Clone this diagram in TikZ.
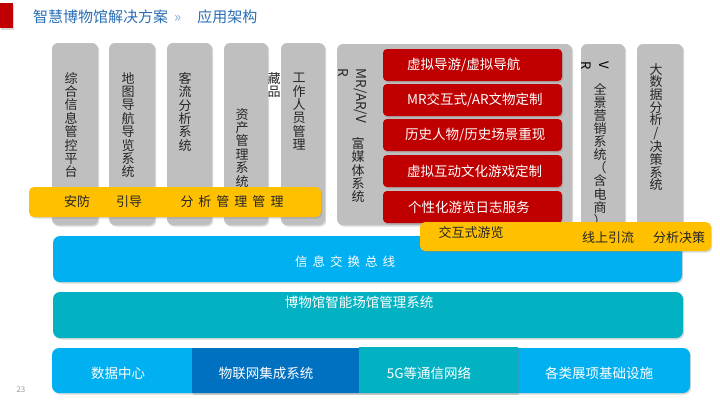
\documentclass[tikz,border=0pt]{standalone}
\usepackage{fontspec}
\setmainfont{Noto Sans CJK SC}
\usetikzlibrary{shadows}
\definecolor{colgray}{RGB}{191,191,191}
\definecolor{gold}{RGB}{255,192,0}
\definecolor{deepred}{RGB}{192,0,0}
\definecolor{busblue}{RGB}{0,176,240}
\definecolor{mteal}{RGB}{3,178,194}
\definecolor{navyblue}{RGB}{0,112,192}
\definecolor{titleblue}{RGB}{41,110,180}
\definecolor{paleblue}{RGB}{130,175,220}
\definecolor{textdark}{RGB}{38,38,38}
\newcommand{\chgap}{\hspace{5pt}}
\tikzset{
  boxshadow/.style={drop shadow={shadow xshift=1.2pt, shadow yshift=-1.5pt, opacity=0.3}},
  colbox/.style={fill=colgray, rounded corners=6pt, boxshadow},
  vlabel/.style={inner sep=0pt, anchor=north, align=center, text=textdark,
                 font=\fontsize{13}{13.4}\selectfont},
  redbox/.style={fill=deepred, rounded corners=4pt, boxshadow},
  redtxt/.style={inner sep=0pt, anchor=west, text=white, font=\fontsize{13.5}{16}\selectfont},
  goldbar/.style={fill=gold, rounded corners=5pt, boxshadow},
  goldtxt/.style={inner sep=0pt, text=textdark, font=\fontsize{13}{16}\selectfont},
  layer/.style={rounded corners=7pt, boxshadow},
  whitetxt/.style={inner sep=0pt, text=white, font=\fontsize{13.5}{16}\selectfont},
}
\begin{document}
\begin{tikzpicture}[x=1pt,y=-1pt]
  \useasboundingbox (0,0) rectangle (720,400);

  % title
  \path[fill=deepred, boxshadow] (0,3) rectangle (13,28);
  \node[anchor=west, inner sep=0pt, text=titleblue, font=\fontsize{15}{18}\selectfont] (title) at (33,17)
    {智慧博物馆解决方案\hspace{6pt}{\color{paleblue}»}\hspace{16pt}应用架构};

  % left system columns
  \foreach \xa/\xb in {52/98, 109/155, 167/212, 224/268, 281/325}
    \path[colbox] (\xa,43) rectangle (\xb,225);
  \node[vlabel] (zhkz) at (71,72) {综\\合\\信\\息\\管\\控\\平\\台};
  \node[vlabel] (dtdh) at (128,72) {地\\图\\导\\航\\导\\览\\系\\统};
  \node[vlabel] (klfx) at (185,72) {客\\流\\分\\析\\系\\统};
  \node[vlabel] (zcgl) at (242,108) {资\\产\\管\\理\\系\\统};
  \node[vlabel, fill=white] (cp) at (274,72) {藏\\品};
  \node[vlabel] (gzry) at (299,73) {工\\作\\人\\员\\管\\理};

  \path[goldbar] (29,187) rectangle (321,217);
  \node[goldtxt] (af) at (77,202) {安防};
  \node[goldtxt] (yd) at (129,202) {引导};
  \node[goldtxt] (fxgl) at (232,202) {分\chgap 析\chgap 管\chgap 理\chgap 管\chgap 理};

  % rich media column
  \path[colbox] (337,44) rectangle (572,225);
  \node[inner sep=0pt, rotate=-90, align=left, text=textdark,
        font=\fontsize{13.5}{18}\selectfont] (mrar) at (353,96) {MR/AR/V\\R};
  \node[vlabel] (fmt) at (358,137) {富\\媒\\体\\系\\统};
  \foreach \ya/\yb in {49/81, 84/116, 119/151, 155/187, 191/223}
    \path[redbox] (383,\ya) rectangle (562,\yb);
  \node[redtxt] (xndy) at (407,65) {虚拟导游/虚拟导航};
  \node[redtxt] (mrjh) at (407,100) {MR交互式/AR文物定制};
  \node[redtxt] (lsrw) at (405,135) {历史人物/历史场景重现};
  \node[redtxt] (xnhd) at (407,171) {虚拟互动文化游戏定制};
  \node[redtxt] (gxh) at (408,207) {个性化游览日志服务};

  % right columns
  \path[colbox] (581,44) rectangle (625,228);
  \path[colbox] (637,44) rectangle (683,228);
  \node[inner sep=0pt, rotate=-90, align=left, text=black,
        font=\fontsize{13}{18}\selectfont] (vr) at (595,66) {V\\R};
  \node[vlabel, font=\fontsize{13}{13.1}\selectfont] (qjyx) at (600,83)
    {全\\景\\营\\销\\系\\统\\（\\含\\电\\商\\）};
  \node[vlabel, font=\fontsize{13}{12.7}\selectfont] (dsj) at (656,63)
    {大\\数\\据\\分\\析\\/\\决\\策\\系\\统};

  % bus and management layer
  \path[layer, fill=busblue] (53,236) rectangle (682,282);
  \node[whitetxt, font=\fontsize{12.5}{16}\selectfont] (bus) at (345,262)
    {信\chgap 息\chgap 交\chgap 换\chgap 总\chgap 线};
  \path[layer, fill=mteal] (53,292) rectangle (683,338);
  \node[whitetxt] (znzg) at (359,302) {博物馆智能场馆管理系统};

  % infrastructure row
  \path[layer, fill=busblue] (52,348) rectangle (690,393);
  \path[fill=navyblue, boxshadow] (192,348) rectangle (359,393);
  \path[fill=mteal, boxshadow] (359,347) rectangle (518,393);
  \node[whitetxt] (sjzx) at (118,373) {数据中心};
  \node[whitetxt] (wlw) at (266,373) {物联网集成系统};
  \node[whitetxt] (tx5g) at (429,373) {5G等通信网络};
  \node[whitetxt] (jcss) at (599,373) {各类展项基础设施};

  % interactive tour bar
  \path[goldbar] (420,222) rectangle (711,251);
  \node[goldtxt] (jhsy) at (471,233) {交互式游览};
  \node[goldtxt] (xsyl) at (608,238) {线上引流};
  \node[goldtxt] (fxjc) at (679,238) {分析决策};

  \node[inner sep=0pt, text=black!40, font=\fontsize{8}{10}\selectfont] (page) at (21,390) {23};
\end{tikzpicture}
\end{document}
